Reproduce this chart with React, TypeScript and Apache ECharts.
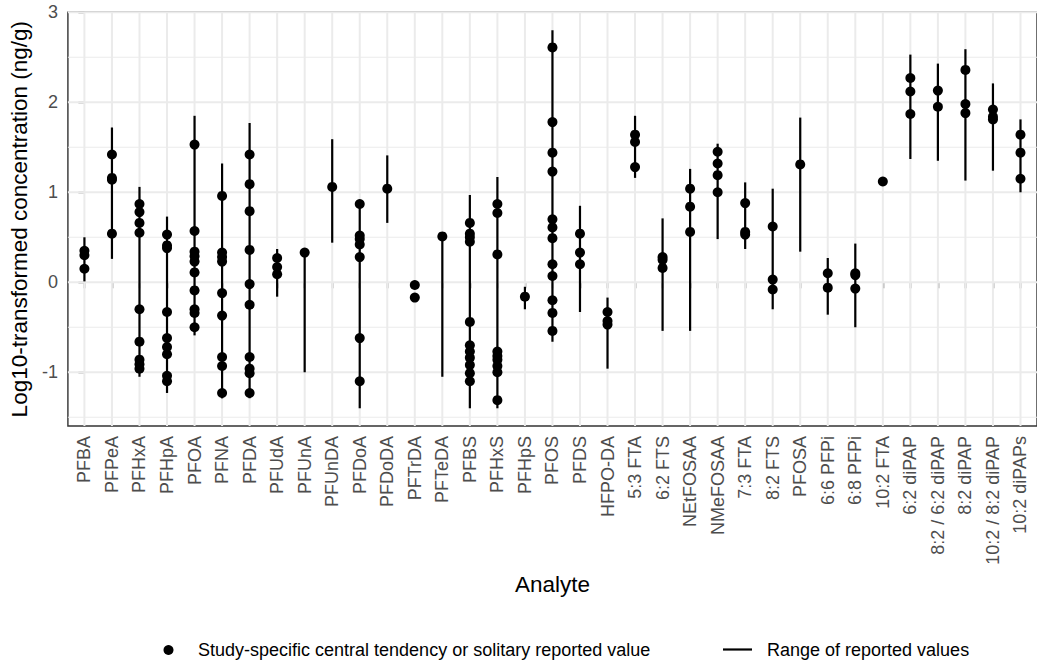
import React, { useEffect, useRef } from "react";
import * as echarts from "echarts";

const FONT = "'Liberation Sans', Arial, Helvetica, sans-serif";

const categories = [
  "PFBA", "PFPeA", "PFHxA", "PFHpA", "PFOA", "PFNA", "PFDA", "PFUdA", "PFUnA",
  "PFUnDA", "PFDoA", "PFDoDA", "PFTrDA", "PFTeDA", "PFBS", "PFHxS", "PFHpS",
  "PFOS", "PFDS", "HFPO-DA", "5:3 FTA", "6:2 FTS", "NEtFOSAA", "NMeFOSAA",
  "7:3 FTA", "8:2 FTS", "PFOSA", "6:6 PFPi", "6:8 PFPi", "10:2 FTA",
  "6:2 diPAP", "8:2 / 6:2 diPAP", "8:2 diPAP", "10:2 / 8:2 diPAP", "10:2 diPAPs",
];

// upper and lower ends of the range of reported values (null = no range)
const rangeMax = [
  0.5, 1.72, 1.06, 0.73, 1.85, 1.32, 1.77, 0.37, 0.33,
  1.59, 0.87, 1.41, null, 0.51, 0.97, 1.17, -0.05,
  2.8, 0.85, -0.17, 1.85, 0.71, 1.26, 1.54,
  1.11, 1.04, 1.83, 0.27, 0.43, null,
  2.53, 2.43, 2.59, 2.21, 1.81,
];
const rangeMin = [
  0.01, 0.26, -1.05, -1.23, -0.59, -1.29, -1.29, -0.16, -1.0,
  0.44, -1.4, 0.66, null, -1.05, -1.4, -1.4, -0.3,
  -0.66, -0.33, -0.96, 1.16, -0.54, -0.54, 0.48,
  0.37, -0.3, 0.34, -0.36, -0.5, null,
  1.37, 1.35, 1.13, 1.24, 1.0,
];

// study-specific central tendency / solitary values, one list per analyte
const pointValues = [
  [0.35, 0.3, 0.15],
  [1.42, 1.16, 1.14, 0.54],
  [0.87, 0.78, 0.66, 0.55, -0.3, -0.66, -0.86, -0.91, -0.96],
  [0.53, 0.41, 0.38, -0.33, -0.62, -0.72, -0.8, -1.04, -1.1],
  [1.53, 0.57, 0.34, 0.29, 0.23, 0.11, -0.09, -0.3, -0.34, -0.5],
  [0.96, 0.33, 0.28, 0.23, -0.12, -0.37, -0.83, -0.93, -1.23],
  [1.42, 1.09, 0.79, 0.36, -0.02, -0.25, -0.83, -0.96, -1.01, -1.23],
  [0.27, 0.17, 0.09],
  [0.33],
  [1.06],
  [0.87, 0.52, 0.48, 0.42, 0.28, -0.62, -1.1],
  [1.04],
  [-0.03, -0.17],
  [0.51],
  [0.66, 0.54, 0.5, 0.45, -0.44, -0.7, -0.77, -0.84, -0.92, -1.01, -1.1],
  [0.87, 0.77, 0.31, -0.77, -0.82, -0.86, -0.93, -1.0, -1.31],
  [-0.16],
  [2.61, 1.78, 1.44, 1.23, 0.7, 0.61, 0.49, 0.2, 0.07, -0.2, -0.34, -0.54],
  [0.54, 0.33, 0.2],
  [-0.33, -0.43, -0.47],
  [1.64, 1.56, 1.28],
  [0.28, 0.25, 0.16],
  [1.04, 0.84, 0.56],
  [1.45, 1.32, 1.19, 1.0],
  [0.88, 0.56, 0.53],
  [0.62, 0.03, -0.08],
  [1.31],
  [0.1, -0.06],
  [0.1, 0.08, -0.07],
  [1.12],
  [2.27, 2.12, 1.87],
  [2.13, 1.95],
  [2.36, 1.98, 1.88],
  [1.92, 1.84, 1.81],
  [1.64, 1.44, 1.15],
];

const yTicks = [-1, 0, 1, 2, 3];
const yMinorGrid = [-1.5, -0.5, 0.5, 1.5, 2.5];

const pointLegend = "Study-specific central tendency or solitary reported value";
const rangeLegend = "Range of reported values";

export default function App() {
  const ref = useRef<HTMLDivElement>(null);

  useEffect(() => {
    if (!ref.current) return;
    const chart = echarts.init(ref.current, null, { renderer: "svg" });
    const idx = categories.map((_, i) => i);

    const gridData: number[][] = [
      ...yMinorGrid.map((v) => [0, v]),
      ...yTicks.map((v) => [1, v]),
      ...idx.map((i) => [2, i]),
    ];

    const rangeData: number[][] = [];
    idx.forEach((i) => {
      if (rangeMin[i] !== null && rangeMax[i] !== null) {
        rangeData.push([i, rangeMin[i] as number, rangeMax[i] as number]);
      }
    });

    const pointData: number[][] = [];
    pointValues.forEach((vals, i) => vals.forEach((v) => pointData.push([i, v])));

    const option: any = {
      animation: false,
      backgroundColor: "#ffffff",
      textStyle: { fontFamily: FONT },
      grid: {
        left: 66,
        top: 12.3,
        right: -8.6,
        bottom: 236,
        show: true,
        borderColor: "#333333",
        borderWidth: 1.4,
        backgroundColor: "transparent",
      },
      xAxis: {
        type: "value",
        min: -0.6,
        max: 34.6,
        axisLine: { show: false },
        splitLine: { show: false },
        axisTick: {
          show: true,
          customValues: idx,
          length: 6,
          lineStyle: { color: "#333333", width: 1.4 },
        },
        axisLabel: {
          customValues: idx,
          rotate: 90,
          margin: 10,
          fontSize: 18,
          color: "#4D4D4D",
          fontFamily: FONT,
          formatter: (v: number) => categories[Math.round(v)] ?? "",
        },
        name: "Analyte",
        nameLocation: "middle",
        nameGap: 146,
        nameTextStyle: { fontSize: 22.5, color: "#000000", fontFamily: FONT },
      },
      yAxis: {
        type: "value",
        min: -1.597,
        max: 3,
        axisLine: { show: false },
        splitLine: { show: false },
        axisTick: {
          show: true,
          customValues: yTicks,
          length: 6,
          lineStyle: { color: "#333333", width: 1.4 },
        },
        axisLabel: {
          customValues: yTicks,
          margin: 10,
          fontSize: 18,
          color: "#4D4D4D",
          fontFamily: FONT,
          formatter: (v: number) => String(v),
        },
        name: "Log10-transformed concentration (ng/g)",
        nameLocation: "middle",
        nameGap: 33,
        nameTextStyle: { fontSize: 22.5, color: "#000000", fontFamily: FONT },
      },
      series: [
        {
          type: "custom",
          name: "grid",
          silent: true,
          z: 1,
          data: gridData,
          renderItem: (params: any, api: any) => {
            const kind = api.value(0);
            const v = api.value(1);
            const cs = params.coordSys;
            if (kind === 2) {
              const x = api.coord([v, 0])[0];
              return {
                type: "line",
                shape: { x1: x, y1: cs.y, x2: x, y2: cs.y + cs.height },
                style: { stroke: "#EBEBEB", lineWidth: 2 },
              };
            }
            const y = api.coord([0, v])[1];
            return {
              type: "line",
              shape: { x1: cs.x, y1: y, x2: cs.x + cs.width, y2: y },
              style: { stroke: "#EBEBEB", lineWidth: kind === 1 ? 2 : 1.1 },
            };
          },
        },
        {
          type: "custom",
          name: rangeLegend,
          silent: true,
          z: 2,
          encode: { x: 0, y: [1, 2] },
          data: rangeData,
          renderItem: (params: any, api: any) => {
            const p1 = api.coord([api.value(0), api.value(1)]);
            const p2 = api.coord([api.value(0), api.value(2)]);
            return {
              type: "line",
              shape: { x1: p1[0], y1: p1[1], x2: p2[0], y2: p2[1] },
              style: { stroke: "#000000", lineWidth: 2.2 },
            };
          },
        },
        {
          type: "scatter",
          name: pointLegend,
          silent: true,
          z: 3,
          symbol: "circle",
          symbolSize: 10,
          itemStyle: { color: "#000000", opacity: 1 },
          data: pointData,
        },
      ],
      graphic: [
        {
          type: "circle",
          shape: { cx: 168.5, cy: 650, r: 5 },
          style: { fill: "#000000" },
        },
        {
          type: "text",
          x: 198,
          y: 650,
          style: {
            text: pointLegend,
            fontSize: 18,
            fontFamily: FONT,
            fill: "#000000",
            verticalAlign: "middle",
            align: "left",
          },
        },
        {
          type: "line",
          shape: { x1: 723, y1: 649.5, x2: 752, y2: 649.5 },
          style: { stroke: "#000000", lineWidth: 2.2 },
        },
        {
          type: "text",
          x: 767,
          y: 650,
          style: {
            text: rangeLegend,
            fontSize: 18,
            fontFamily: FONT,
            fill: "#000000",
            verticalAlign: "middle",
            align: "left",
          },
        },
      ],
    };

    chart.setOption(option);
    return () => chart.dispose();
  }, []);

  return (
    <div
      ref={ref}
      style={{ position: "fixed", left: 0, top: 0, width: 1037, height: 662, background: "#fff" }}
    />
  );
}
